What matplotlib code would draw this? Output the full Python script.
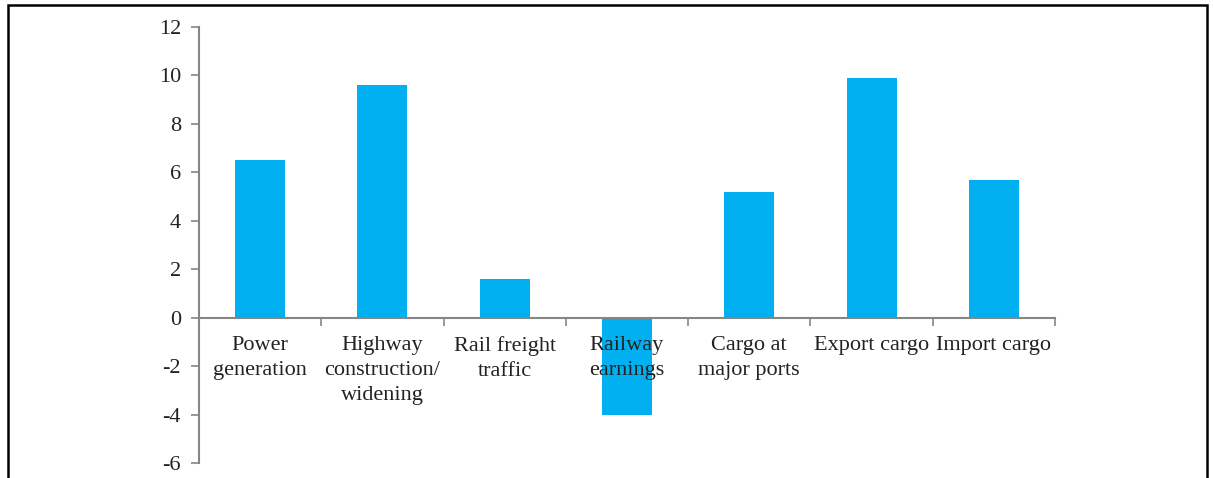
import matplotlib
matplotlib.use("Agg")
import matplotlib.pyplot as plt
from matplotlib.patches import Rectangle
import numpy as np

categories = ["Power\ngeneration", "Highway\nconstruction/\nwidening", "Rail freight\ntraffic",
              "Railway\nearnings", "Cargo at\nmajor ports", "Export cargo", "Import cargo"]
values = [6.5, 9.6, 1.6, -4.0, 5.2, 9.9, 5.7]
yticks = [-6, -4, -2, 0, 2, 4, 6, 8, 10, 12]

W, H = 1213, 478
fig = plt.figure(figsize=(W / 100, H / 100), dpi=100)
plt.rcParams['font.family'] = ['Liberation Serif', 'DejaVu Serif']

left, right, top, bottom = 199, 1055, 27, 463
ax = fig.add_axes([left / W, 1 - bottom / H, (right - left) / W, (bottom - top) / H])

x = np.arange(len(categories))
ax.bar(x, values, width=0.41, color="#00B0F0", zorder=1)

ax.set_xlim(-0.5, len(categories) - 0.5)
ax.set_ylim(-6, 12)
ax.set_yticks(yticks)
ax.set_yticklabels([str(v) for v in yticks], fontsize=16, color="#222222")

for s in ["top", "right"]:
    ax.spines[s].set_visible(False)
ax.spines["left"].set_color("#868686")
ax.spines["bottom"].set_color("#868686")
ax.spines["left"].set_linewidth(1.5)
ax.spines["bottom"].set_linewidth(1.5)
ax.spines["bottom"].set_position(("data", 0))

ax.set_xticks(x)
ax.set_xticklabels(categories, fontsize=16, color="#222222", linespacing=1.45)
ax.set_xticks(np.arange(len(categories) + 1) - 0.5, minor=True)
ax.tick_params(axis="x", which="major", length=0, pad=13)
ax.tick_params(axis="x", which="minor", length=6, width=1.2, color="#868686", direction="out")
ax.tick_params(axis="y", length=6, width=1.2, color="#868686", direction="out", pad=7)

fig.patches.append(Rectangle((8 / W, -0.1), (1207 - 8) / W, 1.1 - 5 / H,
                             transform=fig.transFigure, fill=False,
                             edgecolor="black", linewidth=1.8, clip_on=False))

fig.savefig("out.png", dpi=100)
